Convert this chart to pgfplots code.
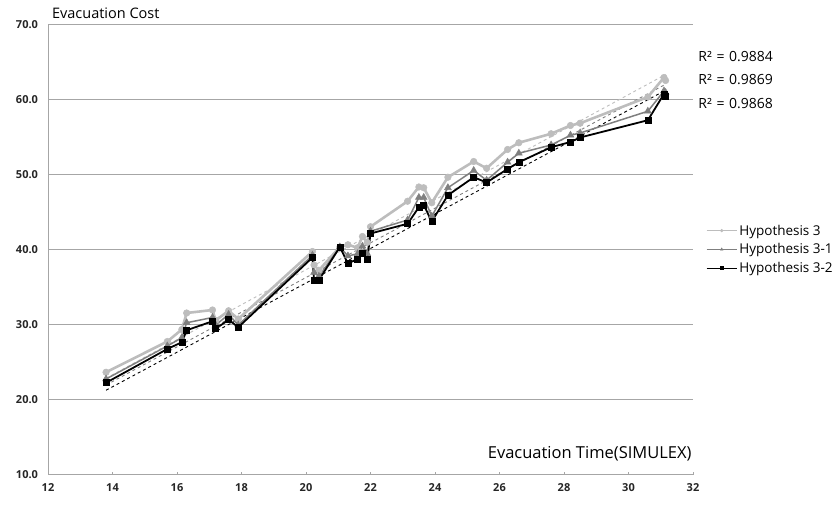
\documentclass[border=0pt]{standalone}
\usepackage{pgfplots}
\usepackage{pgfplotstable}
\pgfplotsset{compat=1.18}
\usepackage{fontspec}
\setmainfont{Open Sans}
\definecolor{lg}{HTML}{BDBDBD}
\definecolor{mg}{HTML}{7F7F7F}
\definecolor{gridc}{HTML}{A6A6A6}

\pgfplotstableread{
x      h3    h31   h32
13.80  23.7  22.8  22.3
15.70  27.8  27.2  26.8
16.15  29.4  28.3  27.7
16.30  31.6  30.3  29.3
17.10  32.0  31.0  30.5
17.20  30.6  30.0  29.5
17.60  31.9  31.4  30.7
17.90  30.8  30.0  29.7
20.20  39.8  39.3  39.0
20.25  38.0  37.0  36.0
20.40  37.3  36.5  36.0
21.05  40.4  40.4  40.4
21.30  40.7  39.2  38.2
21.60  40.3  39.5  38.8
21.75  41.8  40.5  39.6
21.90  41.0  39.5  38.7
22.00  43.1  42.5  42.2
23.15  46.5  44.0  43.5
23.50  48.4  47.0  45.7
23.65  48.3  47.0  46.0
23.90  46.3  44.5  43.8
24.40  49.7  48.3  47.3
25.20  51.8  50.6  49.7
25.60  50.9  49.3  49.0
26.25  53.4  51.7  50.8
26.60  54.3  52.9  51.7
27.60  55.5  54.0  53.7
28.20  56.6  55.3  54.4
28.50  56.9  55.6  55.0
30.60  60.4  58.5  57.3
31.10  63.0  61.2  60.8
31.15  62.6  61.0  60.5
}\datatable

\begin{document}
\begin{tikzpicture}[x=1pt,y=1pt]
\useasboundingbox (0,0) rectangle (839,506);
\begin{axis}[
  at={(48pt,31pt)}, anchor=south west,
  scale only axis, width=645pt, height=450pt,
  xmin=12, xmax=32, ymin=10, ymax=70,
  xtick distance=2, ytick distance=10,
  axis x line=bottom, axis y line=left,
  axis line style={gridc, line width=1pt, -},
  x axis line style={-},
  y axis line style={-},
  xtick align=inside, major tick length=3pt,
  ytick style={draw=none},
  xtick style={gridc, line width=0.8pt},
  ymajorgrids, grid style={gridc, line width=1pt},
  /pgf/number format/assume math mode=true,
  ticklabel style={font=\fontsize{11}{13}\selectfont\bfseries, text=black!85},
  yticklabel style={/pgf/number format/fixed, /pgf/number format/fixed zerofill, /pgf/number format/precision=1, xshift=-5pt},
  xticklabel style={yshift=-5pt},
  clip=false,
  legend style={at={(1.02,0.561)}, anchor=north west, draw=none, fill=none,
    font=\fontsize{13.5}{16}\selectfont, row sep=3pt, inner sep=0pt,
    nodes={inner xsep=2pt}},
  legend cell align=left,
  legend image code/.code={\draw[mark repeat=2,mark phase=2] plot coordinates {(0pt,0pt) (15pt,0pt) (30pt,0pt)};},
  legend image post style={mark size=1.4pt, line width=1.2pt},
]
% trendlines
\addplot[lg, dashed, line width=0.9pt, forget plot] coordinates {(13.8,22.9) (31.15,63.4)};
\addplot[mg, dashed, line width=0.9pt, forget plot] coordinates {(13.8,22.0) (31.15,62.1)};
\addplot[black, dashed, line width=0.9pt, forget plot] coordinates {(13.8,21.3) (31.15,61.3)};
% series
\addplot[lg, line width=2.6pt, mark=*, mark size=3.3pt, mark options={fill=lg, draw=lg, line width=0.5pt}] table[x=x,y=h3] {\datatable};
\addlegendentry{Hypothesis 3}
\addplot[mg, line width=1.5pt, mark=triangle*, mark size=4pt, mark options={fill=mg, draw=mg, line width=0.5pt}] table[x=x,y=h31] {\datatable};
\addlegendentry{Hypothesis 3-1}
\addplot[black, line width=1.8pt, mark=square*, mark size=3pt, mark options={fill=black, line width=0.5pt}] table[x=x,y=h32] {\datatable};
\addlegendentry{Hypothesis 3-2}
% texts
\node[anchor=west, font=\fontsize{14}{16}\selectfont, inner sep=0pt] at (rel axis cs:1.008,0.929) {R²\,\,=\,\,0.9884};
\node[anchor=west, font=\fontsize{14}{16}\selectfont, inner sep=0pt] at (rel axis cs:1.008,0.878) {R²\,\,=\,\,0.9869};
\node[anchor=west, font=\fontsize{14}{16}\selectfont, inner sep=0pt] at (rel axis cs:1.008,0.825) {R²\,\,=\,\,0.9868};
\node[anchor=east, font=\fontsize{16.5}{19}\selectfont, inner sep=0pt] at (rel axis cs:0.998,0.048) {Evacuation Time(SIMULEX)};
\node[anchor=west, font=\fontsize{14.5}{17}\selectfont, inner sep=0pt] at (rel axis cs:0.006,1.026) {Evacuation Cost};
\end{axis}
\end{tikzpicture}
\end{document}
